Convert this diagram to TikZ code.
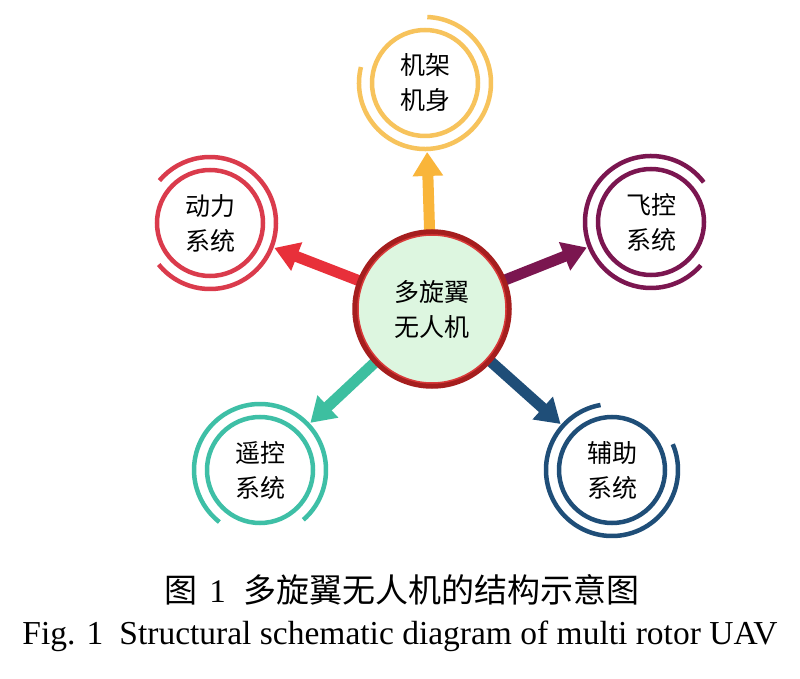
\documentclass[tikz,border=0pt]{standalone}
\usepackage{fontspec}
\setmainfont{Liberation Serif}
\newfontfamily\cjk{Noto Sans CJK SC}
\usetikzlibrary{arrows.meta,calc}
\definecolor{yelring}{HTML}{F7C35C}
\definecolor{yelarrow}{HTML}{F9B53A}
\definecolor{redring}{HTML}{DA3B4C}
\definecolor{redarrow}{HTML}{E8303A}
\definecolor{purp}{HTML}{7B1650}
\definecolor{tealring}{HTML}{3EBFA6}
\definecolor{tealarrow}{HTML}{3DBFA0}
\definecolor{darkblue}{HTML}{1F4E78}
\definecolor{centerring}{HTML}{A51E1E}
\definecolor{centerinner}{HTML}{D93A3A}
\definecolor{centerfill}{HTML}{DDF6E0}
\begin{document}
\begin{tikzpicture}[x=1pt,y=1pt,
  subnode/.style={circle, draw, line width=4.5pt, minimum size=106pt, inner sep=0pt,
    align=center, font=\cjk\fontsize{25}{35}\selectfont},
  outerarc/.style={line width=4.5pt},
  conn/.style={line width=11pt, -{Triangle[width=29pt,length=24pt]}}
]
\useasboundingbox (0,0) rectangle (800,678);
\fill[white] (0,0) rectangle (800,678);

% sub nodes
\node[subnode, draw=yelring] (n1) at (425,595) {机架\\机身};
\node[subnode, draw=redring] (n2) at (210,455) {动力\\系统};
\node[subnode, draw=purp] (n3) at (651,456) {飞控\\系统};
\node[subnode, draw=tealring] (n4) at (260,208) {遥控\\系统};
\node[subnode, draw=darkblue] (n5) at (612,208) {辅助\\系统};

% outer arcs
\draw[outerarc, yelring] ($(n1)+(166:66)$) arc[start angle=166, end angle=448, radius=66];
\draw[outerarc, redring] ($(n2)+(-141:66)$) arc[start angle=-141, end angle=140, radius=66];
\draw[outerarc, purp] ($(n3)+(37:66)$) arc[start angle=37, end angle=319, radius=66];
\draw[outerarc, tealring] ($(n4)+(-49:66)$) arc[start angle=-49, end angle=232, radius=66];
\draw[outerarc, darkblue] ($(n5)+(100:66)$) arc[start angle=100, end angle=383, radius=66];

% center
\coordinate (cc) at (432,369);
\draw[conn, yelarrow] ($(cc)!78pt!(n1)$) -- ($(n1)!69pt!(cc)$);
\draw[conn, redarrow] ($(cc)!78pt!(n2)$) -- ($(n2)!69pt!(cc)$);
\draw[conn, purp] ($(cc)!78pt!(n3)$) -- ($(n3)!69pt!(cc)$);
\draw[conn, tealarrow] ($(cc)!78pt!(n4)$) -- ($(n4)!69pt!(cc)$);
\draw[conn, darkblue] ($(cc)!78pt!(n5)$) -- ($(n5)!69pt!(cc)$);

\node[circle, minimum size=154pt, inner sep=0pt, fill=centerfill, draw=centerring, line width=5.5pt,
  align=center, font=\cjk\fontsize{25}{35}\selectfont] (c) at (cc) {多旋翼\\无人机};
\draw[centerinner, line width=1.5pt] (c.center) circle (74);

% caption
\node[font=\cjk\fontsize{33}{33}\selectfont, inner sep=0pt] (cap1) at (402,88)
  {图\hspace{12pt}{\rmfamily 1}\hspace{18pt}多旋翼无人机的结构示意图};
\node[font=\fontsize{33.5}{34}\selectfont, inner sep=0pt] (cap2) at (400,42)
  {Fig. 1\hspace{16pt}Structural schematic diagram of multi rotor UAV};
\end{tikzpicture}
\end{document}
